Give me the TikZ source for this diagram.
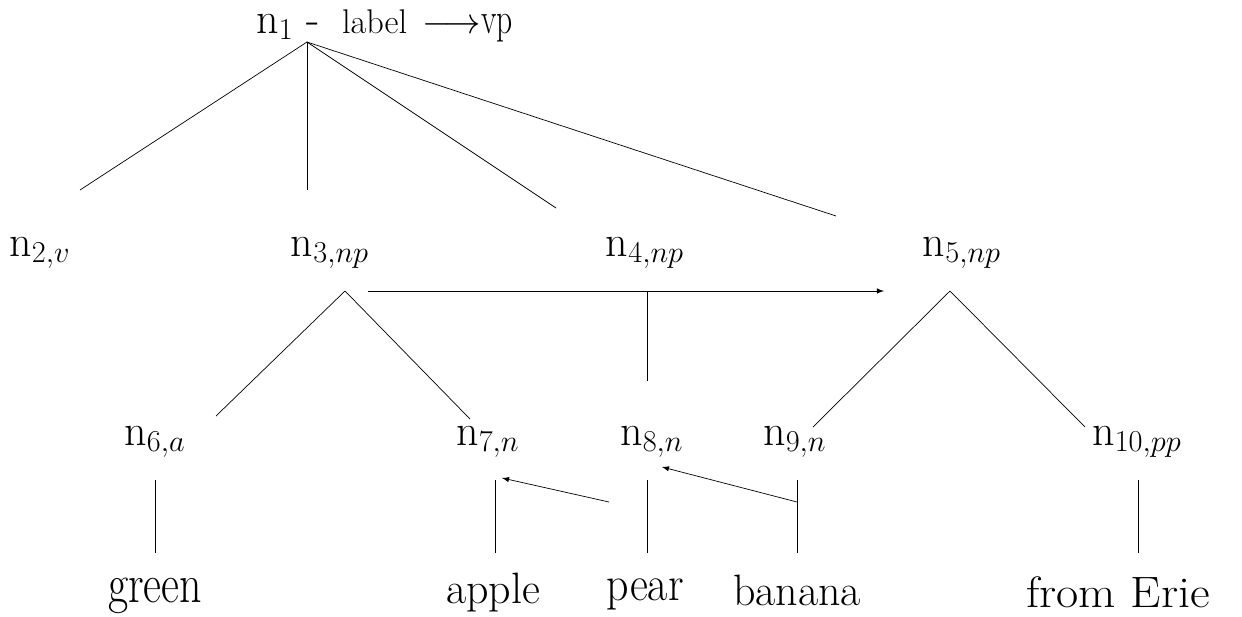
\documentclass[tikz,border=0pt]{standalone}
\usepackage{amsmath}
\usepackage{tikz}

\begin{document}
\begin{tikzpicture}[x=0.02cm,y=-0.02cm,
  lbl/.style={inner sep=0pt,anchor=base,font=\fontsize{25}{30}\selectfont},
  ptr/.style={-latex}]
\useasboundingbox (0,0) rectangle (1242,616);

% root
\node[lbl,anchor=base west] (n1) at (256,33)
  {n$_1$ -\hspace{0.5em}{\fontsize{19.5}{22}\selectfont label\hspace{0.45em}$\longrightarrow$}\scalebox{0.72}[1]{vp}};
\coordinate (r) at (307,42);

% second row
\node[lbl] (n2) at (40,256) {n$_{2,v}$};
\node[lbl] (n3) at (330,256) {n$_{3,np}$};
\node[lbl] (n4) at (645,256) {n$_{4,np}$};
\node[lbl] (n5) at (962,256) {n$_{5,np}$};

\coordinate (e2) at (80,190);
\coordinate (e3) at (307,190);
\coordinate (e4) at (556,208);
\coordinate (e5) at (836,216);
\foreach \e in {e2,e3,e4,e5}
  \draw (r) -- (\e);

% third row
\node[lbl] (n6) at (155,445) {n$_{6,a}$};
\node[lbl] (n7) at (488,445) {n$_{7,n}$};
\node[lbl] (n8) at (652,445) {n$_{8,n}$};
\node[lbl] (n9) at (795,445) {n$_{9,n}$};
\node[lbl] (n10) at (1137,445) {n$_{10,pp}$};

\coordinate (a3) at (345,291);
\draw (216,416) -- (a3) -- (470,419);
\coordinate (a4) at (647,291);
\draw (a4) -- (647,381);
\coordinate (a5) at (950,291);
\draw (813,427) -- (a5) -- (1085,427);
\draw[ptr] (368,291) -- (884,291);

% leaves
\node[lbl] (w6) at (155,602) {\scalebox{1}[1.25]{green}};
\node[lbl] (w7) at (493,603) {apple};
\node[lbl] (w8) at (645,600) {\scalebox{1}[1.12]{pear}};
\node[lbl] (w9) at (797,605) {banana};
\node[lbl] (w10) at (1118,607) {\scalebox{1.1}[1]{from Erie}};

\foreach \x in {155,495,647,797,1138}
  \draw (\x,480) -- (\x,553);

\draw[ptr] (609,502) -- (502,478);
\draw[ptr] (797,502) -- (662,467);
\end{tikzpicture}
\end{document}
